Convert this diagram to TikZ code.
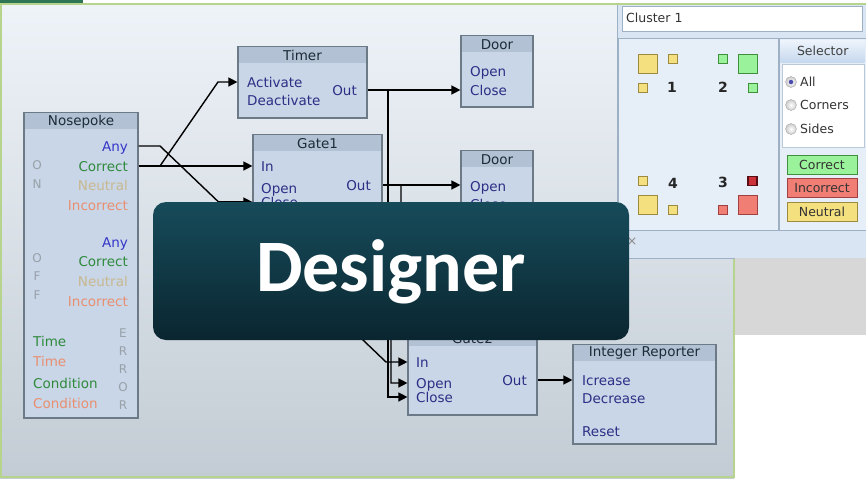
\documentclass[tikz,border=0pt]{standalone}
\usepackage{fontspec}
\setmainfont{DejaVu Sans}
\newfontfamily\bannerfont{Carlito}
\usetikzlibrary{arrows.meta}

\definecolor{topgreen}{HTML}{2E7556}
\definecolor{edgegreen}{HTML}{B6D48C}
\definecolor{canvastop}{HTML}{EEF3F8}
\definecolor{canvasbot}{HTML}{C3CCD4}
\definecolor{blockfill}{HTML}{C8D6E7}
\definecolor{headfill}{HTML}{B2C2D4}
\definecolor{blockline}{HTML}{6C7A88}
\definecolor{headtext}{HTML}{1E2A38}
\definecolor{porttext}{HTML}{2C2F85}
\definecolor{anyblue}{HTML}{3434C8}
\definecolor{okgreen}{HTML}{2F8A3C}
\definecolor{neutraltan}{HTML}{C9B88E}
\definecolor{badsalmon}{HTML}{E98F70}
\definecolor{lettergray}{HTML}{98A0A8}
\definecolor{panelfill}{HTML}{D9E5F2}
\definecolor{regionfill}{HTML}{E6EEF8}
\definecolor{panelline}{HTML}{9EB0C3}
\definecolor{selheadtop}{HTML}{EEF4FC}
\definecolor{selheadbot}{HTML}{C6D8EE}
\definecolor{grayfill}{HTML}{D7D7D7}
\definecolor{sqyellow}{HTML}{F4E07E}
\definecolor{sqyellowline}{HTML}{9C8A40}
\definecolor{sqgreen}{HTML}{9AF29A}
\definecolor{sqgreenline}{HTML}{3F8F3F}
\definecolor{sqred}{HTML}{F07E74}
\definecolor{sqredline}{HTML}{A04040}
\definecolor{sqdark}{HTML}{CC323A}
\definecolor{sqdarkline}{HTML}{5A0E14}
\definecolor{bannertop}{HTML}{174B5A}
\definecolor{bannerbot}{HTML}{0A2630}

\tikzset{
  block/.style={draw=blockline, fill=blockfill, line width=1.2pt, inner sep=0pt},
  blockhead/.style={fill=headfill, inner sep=0pt, minimum height=16pt, anchor=north,
    text=headtext, font=\fontsize{13.5}{16}\selectfont},
  port/.style={inner sep=0pt, text height=12pt, text depth=2pt, text=porttext,
    font=\fontsize{13.5}{16}\selectfont},
  letter/.style={inner sep=0pt, text=lettergray, font=\fontsize{12}{14}\selectfont},
  wire/.style={line width=1.4pt, -{Triangle[length=9pt,width=9pt]}},
  region/.style={draw=panelline, fill=regionfill, line width=0.8pt, inner sep=0pt, anchor=north west},
  paneltext/.style={inner sep=0pt, text=black!80, font=\fontsize{12.5}{15}\selectfont},
  radio/.style={circle, draw=black!35, inner color=white, outer color=black!20, minimum size=11pt, inner sep=0pt},
  flag/.style={draw=#1line, fill=#1, line width=1pt, inner sep=0pt, minimum width=70pt, minimum height=19pt,
    text=black!80, font=\fontsize{12.5}{15}\selectfont},
  sq/.style={draw=sq#1line, fill=sq#1, line width=1pt, inner sep=0pt},
  small/.style={minimum size=9pt},
  big/.style={minimum size=19pt},
  number/.style={inner sep=0pt, text=black!85, font=\bfseries\fontsize{14}{16}\selectfont},
  banner/.style={rounded corners=13pt, top color=bannertop, bottom color=bannerbot, inner sep=0pt,
    minimum width=476pt, minimum height=138pt, text=white, text height=47pt, text depth=6pt,
    font=\bannerfont\bfseries\fontsize{74}{80}\selectfont}
}

\begin{document}
\begin{tikzpicture}[x=1pt,y=-1pt]
\useasboundingbox (0,0) rectangle (866,479);

% canvas
\fill[topgreen] (0,0) rectangle (83,3.5);
\shade[top color=canvastop, bottom color=canvasbot] (0,3.5) rectangle (734,478);
\draw[edgegreen, line width=2pt] (866,3.5) -- (1.2,3.5) -- (1.2,477.2) -- (733.5,477.2) -- (733.5,258);

% blocks
\node[block, minimum width=114pt, minimum height=305pt] (nosepoke) at (81,265.5) {};
\node[blockhead, minimum width=112.6pt] (nosepoke-h) at ([yshift=-0.7pt]nosepoke.north) {Nosepoke};
\node[block, minimum width=129pt, minimum height=71pt] (timer) at (302.5,82.5) {};
\node[blockhead, minimum width=127.6pt] (timer-h) at ([yshift=-0.7pt]timer.north) {Timer};
\node[block, minimum width=129pt, minimum height=85pt] (gate1) at (317.5,177.5) {};
\node[blockhead, minimum width=127.6pt] (gate1-h) at ([yshift=-0.7pt]gate1.north) {Gate1};
\node[block, minimum width=72pt, minimum height=71pt] (door1) at (497,71.5) {};
\node[blockhead, minimum width=70.6pt] (door1-h) at ([yshift=-0.7pt]door1.north) {Door};
\node[block, minimum width=72pt, minimum height=71pt] (door2) at (497,186.5) {};
\node[blockhead, minimum width=70.6pt] (door2-h) at ([yshift=-0.7pt]door2.north) {Door};
\node[block, minimum width=129pt, minimum height=85pt] (gate2) at (472.5,372.5) {};
\node[blockhead, minimum width=127.6pt] (gate2-h) at ([yshift=-0.7pt]gate2.north) {Gate2};
\node[block, minimum width=143pt, minimum height=99pt] (intrep) at (644.5,394.5) {};
\node[blockhead, minimum width=141.6pt] (intrep-h) at ([yshift=-0.7pt]intrep.north) {Integer Reporter};

% nosepoke ports
\node[port, text=anyblue, anchor=east] (np-any) at (128,146) {Any};
\node[port, text=okgreen, anchor=east] (np-correct) at (128,166) {Correct};
\node[port, text=neutraltan, anchor=east] (np-neutral) at (128,185) {Neutral};
\node[port, text=badsalmon, anchor=east] (np-incorrect) at (128,205) {Incorrect};
\node[port, text=anyblue, anchor=east] (np-off-any) at (128,242) {Any};
\node[port, text=okgreen, anchor=east] (np-off-correct) at (128,261) {Correct};
\node[port, text=neutraltan, anchor=east] (np-off-neutral) at (128,281) {Neutral};
\node[port, text=badsalmon, anchor=east] (np-off-incorrect) at (128,301) {Incorrect};
\node[port, text=okgreen, anchor=west] (np-time-ok) at (33,341) {Time};
\node[port, text=badsalmon, anchor=west] (np-time-bad) at (33,361) {Time};
\node[port, text=okgreen, anchor=west] (np-cond-ok) at (33,383) {Condition};
\node[port, text=badsalmon, anchor=west] (np-cond-bad) at (33,403) {Condition};
\node[letter] (on-o) at (37,165) {O};
\node[letter] (on-n) at (37,184) {N};
\node[letter] (off-o) at (37,258) {O};
\node[letter] (off-f1) at (37,276) {F};
\node[letter] (off-f2) at (37,295) {F};
\node[letter] (err-e) at (123,333) {E};
\node[letter] (err-r1) at (123,351) {R};
\node[letter] (err-r2) at (123,369) {R};
\node[letter] (err-o) at (123,387) {O};
\node[letter] (err-r3) at (123,405) {R};

% other ports
\node[port, anchor=west] (timer-act) at (247,82) {Activate};
\node[port, anchor=west] (timer-deact) at (247,100) {Deactivate};
\node[port, anchor=east] (timer-out) at (357,90) {Out};
\node[port, anchor=west] (g1-in) at (261,166) {In};
\node[port, anchor=west] (g1-open) at (261,188) {Open};
\node[port, anchor=west] (g1-close) at (261,202) {Close};
\node[port, anchor=east] (g1-out) at (371,185) {Out};
\node[port, anchor=west] (d1-open) at (470,71) {Open};
\node[port, anchor=west] (d1-close) at (470,90) {Close};
\node[port, anchor=west] (d2-open) at (470,186) {Open};
\node[port, anchor=west] (d2-close) at (470,204) {Close};
\node[port, anchor=west] (g2-in) at (416,362) {In};
\node[port, anchor=west] (g2-open) at (416,383) {Open};
\node[port, anchor=west] (g2-close) at (416,397) {Close};
\node[port, anchor=east] (g2-out) at (527,380) {Out};
\node[port, anchor=west] (ir-inc) at (582,380) {Icrease};
\node[port, anchor=west] (ir-dec) at (582,398) {Decrease};
\node[port, anchor=west] (ir-reset) at (582,431) {Reset};

% wires
\coordinate (split-c) at (160,166);
\coordinate (split-t) at (218,82);
\coordinate (bend-any) at (160,146);
\coordinate (cross-any) at (386,362);
\coordinate (branch-any) at (219,202);
\coordinate (tap-timer) at (388,90);
\coordinate (tap-gate) at (401,185);
\coordinate (jog-gate) at (391,320);
\draw[wire] (nosepoke.east |- np-correct) -- (gate1.west |- g1-in);
\draw[wire] (split-c) -- (split-t) -- (timer.west |- timer-act);
\draw[wire] (nosepoke.east |- np-any) -- (bend-any) -- (cross-any) -- (gate2.west |- g2-in);
\draw[wire] (branch-any) -- (gate1.west |- g1-close);
\draw[wire] (timer.east |- timer-out) -- (door1.west |- d1-close);
\draw[wire] (tap-timer) -- (tap-timer |- g2-close) -- (gate2.west |- g2-close);
\draw[wire] (gate1.east |- g1-out) -- (door2.west |- g1-out);
\draw[wire] (tap-gate) -- ++(0,124) -- (jog-gate) -- (jog-gate |- g2-open) -- (gate2.west |- g2-open);
\draw[wire] (gate2.east |- g2-out) -- (intrep.west |- ir-inc);

% cluster panel
\fill[panelfill] (617,4.5) rectangle (866,258);
\draw[panelline, line width=0.8pt] (617,4.5) -- (617,258) -- (866,258);
\node[draw=panelline, fill=white, inner sep=0pt, anchor=north west, minimum width=240pt, minimum height=25pt] (cluster-field) at (622,6) {};
\node[paneltext, anchor=west] (cluster-name) at (626,18) {Cluster 1};
\node[region, minimum width=160pt, minimum height=192pt] (cluster-area) at (618,38) {};
\node[region, minimum width=87pt, minimum height=192pt] (selector-area) at (779,38) {};
\node[anchor=north west, inner sep=0pt, minimum width=84pt, minimum height=22pt, top color=selheadtop, bottom color=selheadbot,
  text=black!75, font=\fontsize{12.5}{15}\selectfont] (selector-h) at (780.5,40) {Selector};
\node[anchor=north west, draw=panelline!70, fill=white, inner sep=0pt, minimum width=82pt, minimum height=83pt] (radio-box) at (782,64) {};
\node[radio] (radio-all) at (791,82) {};
\node[circle, fill=blue!55!black!70, minimum size=4.5pt, inner sep=0pt] (radio-dot) at (radio-all) {};
\node[radio] (radio-corners) at (791,105) {};
\node[radio] (radio-sides) at (791,129) {};
\node[paneltext, anchor=west] (all-label) at (800,82) {All};
\node[paneltext, anchor=west] (corners-label) at (800,105) {Corners};
\node[paneltext, anchor=west] (sides-label) at (800,129) {Sides};
\node[flag=sqgreen] (btn-correct) at (822,165) {Correct};
\node[flag=sqred] (btn-incorrect) at (822,188) {Incorrect};
\node[flag=sqyellow] (btn-neutral) at (822,212) {Neutral};
\node[inner sep=0pt, text=black!45, font=\fontsize{13}{15}\selectfont] (close-x) at (632,242) {×};

% corner squares
\node[sq=yellow, big] (c1-big) at (647.5,64) {};
\node[sq=yellow, small] (c1-a) at (672.5,59) {};
\node[sq=yellow, small] (c1-b) at (642.5,87.5) {};
\node[number] (n1) at (672,87) {1};
\node[sq=green, small] (c2-a) at (722.5,59) {};
\node[sq=green, big] (c2-big) at (747.5,63.5) {};
\node[sq=green, small] (c2-b) at (752.5,87.5) {};
\node[number] (n2) at (723,87) {2};
\node[sq=yellow, small] (c4-a) at (642.5,181) {};
\node[number] (n4) at (673,183) {4};
\node[sq=yellow, big] (c4-big) at (647.5,204.5) {};
\node[sq=yellow, small] (c4-b) at (672.5,209.5) {};
\node[number] (n3) at (723,182) {3};
\node[sq=dark, small, line width=1.8pt] (c3-a) at (752.5,181) {};
\node[sq=red, small] (c3-b) at (722.5,209.5) {};
\node[sq=red, big] (c3-big) at (747.5,204.5) {};

% gray area
\fill[grayfill] (734.5,258.4) rectangle (866,335);

% title banner
\node[banner] (designer) at (391,271) {Designer};
\end{tikzpicture}
\end{document}
